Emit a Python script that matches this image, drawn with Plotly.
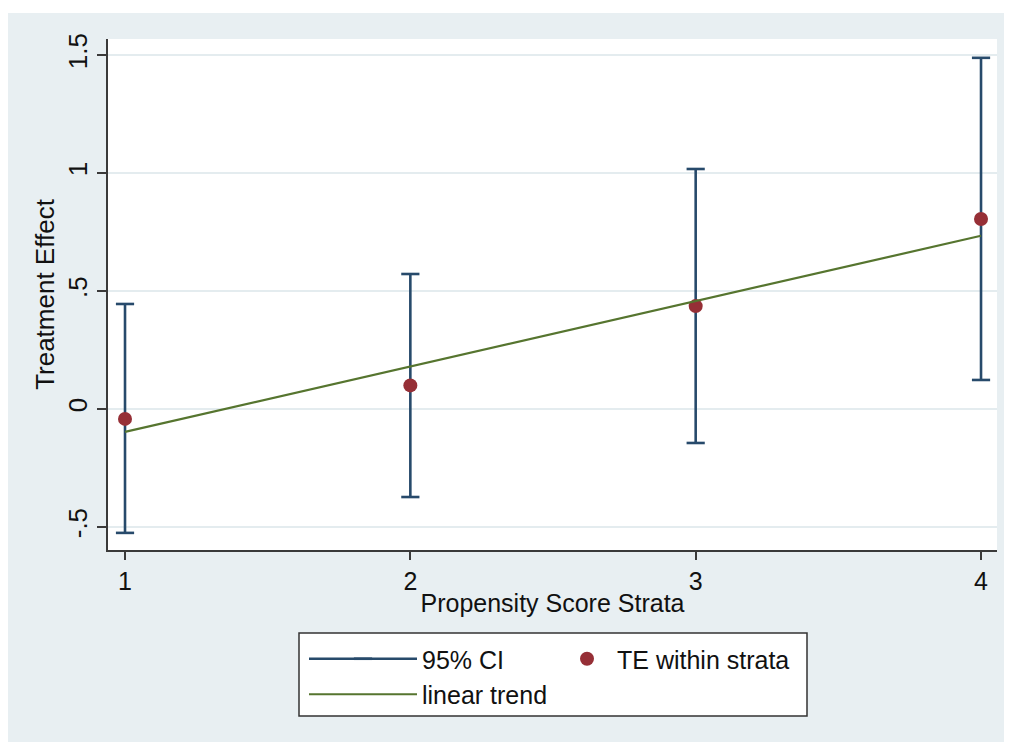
import plotly.graph_objects as go

# ---- data ----
strata = [1, 2, 3, 4]
te = [-0.042, 0.100, 0.436, 0.805]
ci_low = [-0.525, -0.373, -0.144, 0.123]
ci_high = [0.445, 0.572, 1.017, 1.488]
trend = [-0.097, 0.180, 0.455, 0.734]

x_ticks = [1, 2, 3, 4]
x_tick_text = ["1", "2", "3", "4"]
y_ticks = [-0.5, 0, 0.5, 1, 1.5]
y_tick_text = ["-.5", "0", ".5", "1", "1.5"]

# ---- styles ----
BG = "#E8EFF2"
GRID = "#E4ECEF"
NAVY = "#274A6B"
MAROON = "#962F36"
GREEN = "#56752F"
AXIS = "#3A3A3A"
FONT = "Liberation Sans, Arial, sans-serif"

# build capped CI segments from the arrays
ci_x, ci_y = [], []
for s, lo, hi in zip(strata, ci_low, ci_high):
    ci_x += [s, s, None]
    ci_y += [lo, hi, None]

fig = go.Figure()
fig.add_trace(go.Scatter(
    x=ci_x, y=ci_y, mode="lines+markers", name="95% CI",
    line=dict(color=NAVY, width=2.6),
    marker=dict(symbol="line-ew", size=13, line=dict(color=NAVY, width=2.6)),
    hoverinfo="skip", legend="legend",
))
fig.add_trace(go.Scatter(
    x=strata, y=te, mode="markers", name="TE within strata",
    marker=dict(color=MAROON, size=14), legend="legend2",
))
fig.add_trace(go.Scatter(
    x=strata, y=trend, mode="lines", name="linear trend",
    line=dict(color=GREEN, width=2.2), legend="legend",
))

W, H = 1004, 734
ML, MR, MT, MB = 100, 15, 31, 192
pw = W - ML - MR
ph = H - MT - MB


def px_x(p):
    return (p - ML) / pw


def px_y(p):
    return (H - MB - p) / ph


legend_common = dict(
    orientation="v", yanchor="top", xanchor="left",
    bgcolor="rgba(0,0,0,0)", borderwidth=0,
    font=dict(size=25, family=FONT, color="#111111"),
    itemclick=False, itemdoubleclick=False, tracegroupgap=0,
)

fig.update_layout(
    width=W, height=H,
    margin=dict(l=ML, r=MR, t=MT, b=MB, pad=0),
    paper_bgcolor=BG, plot_bgcolor="white",
    font=dict(family=FONT, size=26, color="#111111"),
    showlegend=True,
    legend=dict(**legend_common, x=px_x(296), y=px_y(628), itemwidth=108),
    legend2=dict(**legend_common, x=px_x(549), y=px_y(628), itemwidth=50),
    xaxis=dict(
        range=[0.9404, 4.056], tickvals=x_ticks, ticktext=x_tick_text,
        showgrid=False, zeroline=False,
        showline=True, linecolor=AXIS, linewidth=1.5,
        ticks="outside", ticklen=8, tickwidth=1.5, tickcolor=AXIS,
        tickfont=dict(size=25),
        title=dict(text="Propensity Score Strata", font=dict(size=25), standoff=1),
    ),
    yaxis=dict(
        range=[-0.5975, 1.5678], tickvals=y_ticks, ticktext=y_tick_text,
        showgrid=True, gridcolor=GRID, gridwidth=2, zeroline=False,
        showline=True, linecolor=AXIS, linewidth=1.5,
        ticks="outside", ticklen=9, tickwidth=1.5, tickcolor=AXIS,
        tickangle=-90, tickfont=dict(size=26),
        title=dict(text="Treatment Effect", font=dict(size=26), standoff=1),
    ),
    shapes=[
        # thin white strip above the grey graph region
        dict(type="rect", xref="paper", yref="paper", layer="below",
             x0=px_x(0), x1=px_x(W), y0=px_y(5), y1=px_y(0),
             line=dict(width=0), fillcolor="white"),
        # legend frame
        dict(type="rect", xref="paper", yref="paper", layer="below",
             x0=px_x(291), x1=px_x(799), y0=px_y(708), y1=px_y(625),
             line=dict(width=1.5, color="#333333"), fillcolor="white"),
    ],
)

fig.write_html("out.html")
